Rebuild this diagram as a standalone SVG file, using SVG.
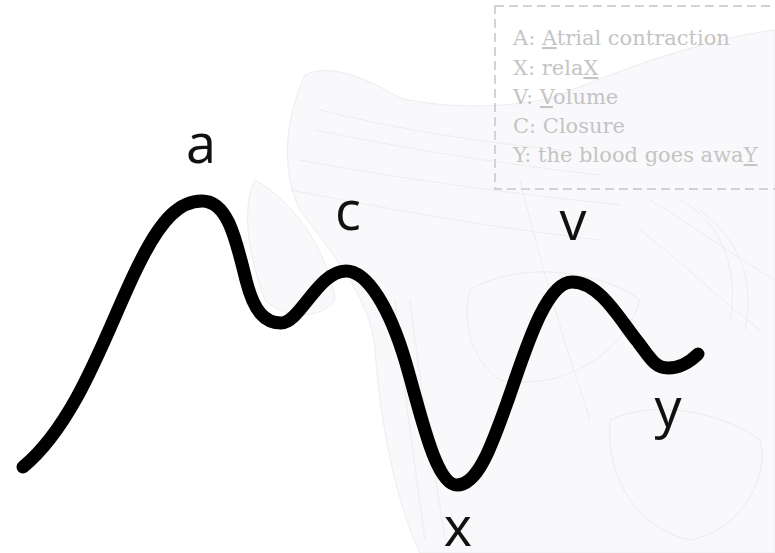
<svg xmlns="http://www.w3.org/2000/svg" width="775" height="553" viewBox="0 0 775 553">
  <style>
    .bg { fill: #f9f9fb; stroke: #ececf1; stroke-width: 1; }
    .bgline { fill: none; stroke: #ededf2; stroke-width: 1; }
    .wave { fill: none; stroke: #000; stroke-width: 13; stroke-linecap: round; stroke-linejoin: round; }
    .lbl { font-family: "Open Sans", "DejaVu Sans", sans-serif; font-size: 54px; fill: #111; text-anchor: middle; }
    .leg { font-family: "DejaVu Serif", "Liberation Serif", serif; font-size: 21px; fill: #c4c4c4; }
    .u { text-decoration: underline; }
  </style>
  <rect width="775" height="553" fill="#ffffff"/>
  <g id="background">
    <path class="bg" d="M305,75 C330,62 370,80 400,98 C450,110 520,108 560,95 C620,70 700,40 775,30 L775,553 L420,553 C395,500 380,420 375,350 C372,300 330,250 300,210 C285,180 280,130 305,75 Z"/>
    <path class="bg" d="M255,180 C240,210 250,260 265,300 C285,320 320,320 335,300 C330,260 300,205 255,180 Z"/>
    <path class="bg" d="M470,290 C520,260 600,270 640,300 C620,360 560,390 500,380 C470,360 462,320 470,290 Z"/>
    <path class="bg" d="M610,420 C650,400 720,410 760,440 C770,480 740,530 690,540 C640,530 605,480 610,420 Z"/>
    <path class="bgline" d="M320,110 C380,125 460,140 560,150 M315,130 C390,145 470,160 600,175 M300,160 C380,175 480,190 620,205 M290,190 C370,205 470,225 600,240"/>
    <path class="bgline" d="M395,300 C400,360 410,430 425,540 M410,300 C418,370 430,440 445,540 M520,180 C540,260 560,330 590,420 M640,230 C680,260 720,300 760,330 M650,200 C700,230 740,260 775,280"/>
    <path class="bgline" d="M680,200 C720,220 740,270 730,320 M700,210 C740,240 755,280 745,330"/>
  </g>
  <g id="legend">
    <rect x="495" y="6" width="290" height="183" fill="none" stroke="#d2d2d7" stroke-width="2" stroke-dasharray="9,5"/>
    <text class="leg" x="513" y="45">A: <tspan class="u">A</tspan>trial contraction</text>
    <text class="leg" x="513" y="75">X: rela<tspan class="u">X</tspan></text>
    <text class="leg" x="513" y="104">V: <tspan class="u">V</tspan>olume</text>
    <text class="leg" x="513" y="133">C: Closure</text>
    <text class="leg" x="513" y="162">Y: the blood goes awa<tspan class="u">Y</tspan></text>
  </g>
  <g id="connectors">
    <path class="wave" d="M23,467 C80,420 110,320 140,262 C162,218 180,201 202,201 C228,201 236,240 246,280 C254,312 265,323 281,323 C300,323 318,271 346,271 C368,271 390,310 405,360 C420,410 435,485 457,485 C478,485 492,445 508,400 C524,355 545,282 572,282 C600,282 620,320 638,342 C650,358 655,368 668,368 C680,368 690,362 698,354"/>
  </g>
  <g id="label-a"><text class="lbl" x="201" y="163">a</text></g>
  <g id="label-c"><text class="lbl" x="348" y="230">c</text></g>
  <g id="label-v"><text class="lbl" x="573" y="240">v</text></g>
  <g id="label-x"><text class="lbl" x="458" y="546">x</text></g>
  <g id="label-y"><text class="lbl" x="668" y="427">y</text></g>
</svg>
